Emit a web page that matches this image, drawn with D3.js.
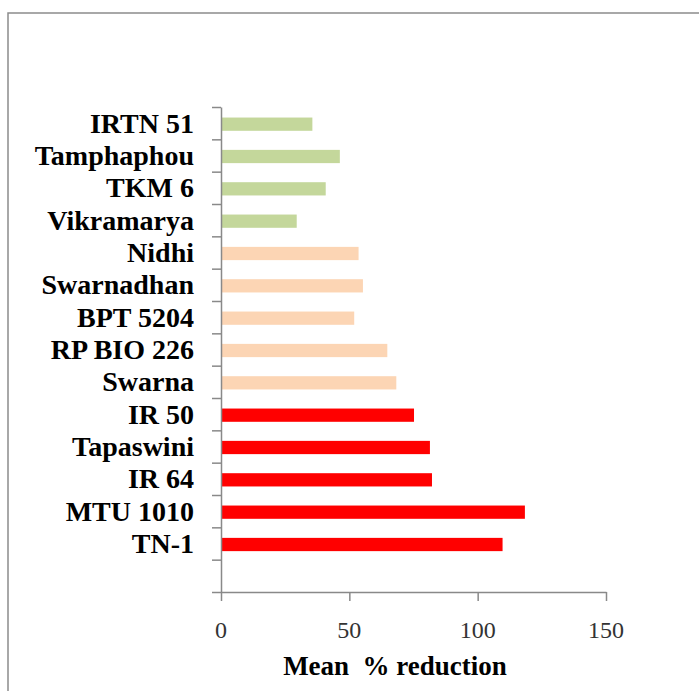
<!DOCTYPE html>
<html>
<head>
<meta charset="utf-8">
<script src="https://cdn.jsdelivr.net/npm/d3@7"></script>
<style>
  body{margin:0;background:#fff;}
  .axis path,.axis line{stroke:#898989;stroke-width:1.5px;}
  .cat-label{font-family:"Liberation Serif","Times New Roman",serif;font-weight:bold;font-size:28px;fill:#000;}
  .x-label{font-family:"Liberation Serif","Times New Roman",serif;font-size:24px;fill:#333;}
  .x-title{font-family:"Liberation Serif","Times New Roman",serif;font-weight:bold;font-size:27px;fill:#000;}
</style>
</head>
<body>
<div id="chart"></div>
<script>
// varieties top to bottom, last slot of the axis is left empty
var varieties = ["IRTN 51","Tamphaphou","TKM 6","Vikramarya","Nidhi","Swarnadhan","BPT 5204",
                 "RP BIO 226","Swarna","IR 50","Tapaswini","IR 64","MTU 1010","TN-1"];
var reduction = [35.6,46.3,40.8,29.5,53.6,55.3,51.9,64.8,68.3,75.2,81.4,82.2,118.4,109.7];
var group = ["g","g","g","g","p","p","p","p","p","r","r","r","r","r"];
var groupColor = {g:"#c4d79b", p:"#fcd5b4", r:"#ff0000"};
var xTicks = [0,50,100,150];

var data = varieties.map(function(d,i){return {name:d, value:reduction[i], group:group[i]}});

var width=699, height=691;
var plot = {left:221, right:606, top:107, bottom:592};
var slots = varieties.length+1;

var svg = d3.select("#chart")
            .append("svg")
            .attr("width", width)
            .attr("height", height)

// outer frame (only top and left edges visible)
svg.append("path")
   .attr("d", "M8,"+height+"V13H"+width)
   .attr("fill","none")
   .attr("stroke","#8c8c8c")
   .attr("stroke-width",1.5)

var x_scale = d3.scaleLinear().domain([0,150]).range([plot.left,plot.right]);
var y_band = d3.scaleBand()
               .domain(varieties.concat([""]))
               .range([plot.top,plot.bottom])
               .paddingInner(0.59)
               .paddingOuter(0.295);
var y_slot = d3.scaleLinear().domain([0,slots]).range([plot.top,plot.bottom]);

svg.selectAll(".bar")
   .data(data)
   .enter()
   .append("rect")
   .attr("class","bar")
   .attr("x", x_scale(0))
   .attr("y", function(d){return y_band(d.name)+1})
   .attr("width", function(d){return x_scale(d.value)-x_scale(0)})
   .attr("height", y_band.bandwidth())
   .attr("fill", function(d){return groupColor[d.group]})

// y axis with ticks between categories
svg.append("g")
   .attr("class","axis")
   .attr("transform","translate("+plot.left+",0)")
   .call(d3.axisLeft(y_slot).tickValues(d3.range(slots+1)).tickSize(9).tickSizeOuter(0).tickFormat(""))

svg.selectAll(".cat-label")
   .data(data)
   .enter()
   .append("text")
   .attr("class","cat-label")
   .attr("x", 194)
   .attr("y", function(d){return y_band(d.name)+y_band.bandwidth()/2})
   .attr("dy","0.34em")
   .attr("text-anchor","end")
   .text(function(d){return d.name})

// x axis
var x_axis = svg.append("g")
   .attr("class","axis")
   .attr("transform","translate(0,"+plot.bottom+")")
   .call(d3.axisBottom(x_scale).tickValues(xTicks).tickSize(9).tickSizeOuter(0))

x_axis.selectAll("text").remove()

svg.selectAll(".x-label")
   .data(xTicks)
   .enter()
   .append("text")
   .attr("class","x-label")
   .attr("x", function(d){return x_scale(d)})
   .attr("y", 638)
   .attr("text-anchor","middle")
   .text(function(d){return d})

svg.append("text")
   .attr("class","x-title")
   .attr("x", 395)
   .attr("y", 675)
   .attr("text-anchor","middle")
   .style("white-space","pre")
   .text("Mean  % reduction")
</script>
</body>
</html>
